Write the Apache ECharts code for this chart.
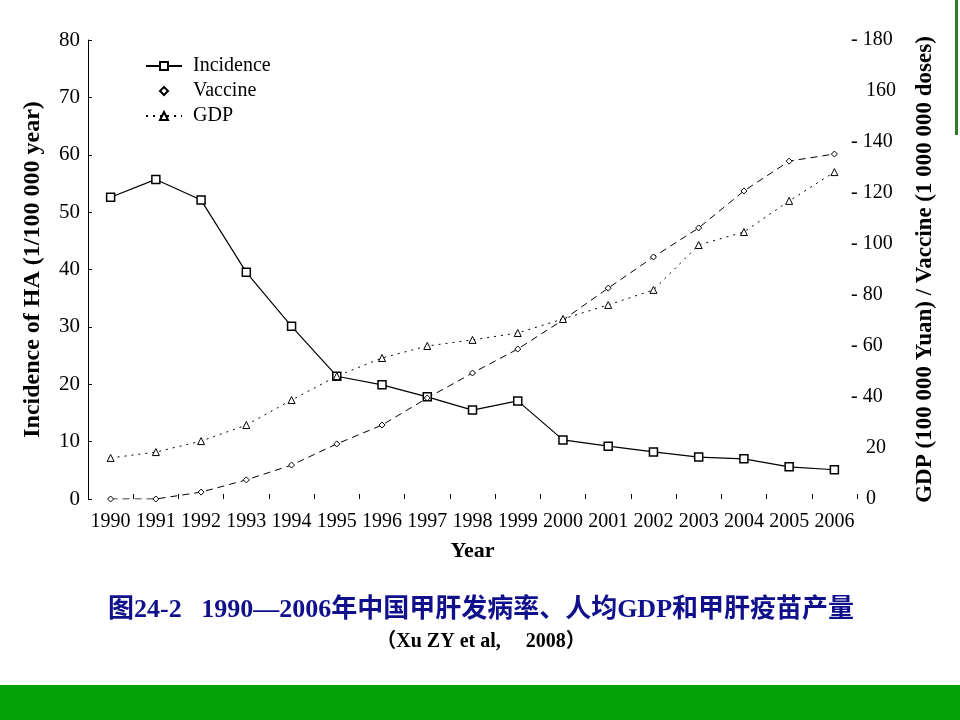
<!DOCTYPE html>
<html>
<head>
<meta charset="utf-8">
<script src="https://cdn.jsdelivr.net/npm/echarts@6/dist/echarts.min.js"></script>
<style>
  html, body { margin: 0; padding: 0; background: #fff; }
  #main { width: 960px; height: 720px; }
</style>
</head>
<body>
<div id="main"></div>
<script>
// 年份
var years = ['1990', '1991', '1992', '1993', '1994', '1995', '1996', '1997', '1998',
             '1999', '2000', '2001', '2002', '2003', '2004', '2005', '2006'];
// 甲肝发病率 (1/10万)
var incidence = [52.6, 55.7, 52.1, 39.5, 30.1, 21.4, 19.9, 17.8, 15.5,
                 17.1, 10.3, 9.2, 8.2, 7.3, 7.0, 5.6, 5.1];
// 疫苗产量 (百万剂)
var vaccine = [0, 0, 2.7, 7.5, 13.3, 21.6, 29.0, 39.6, 49.4,
               58.8, 70.2, 82.7, 94.9, 106.3, 120.8, 132.5, 135.3];
// 人均GDP (10万元)
var gdp = [16.1, 18.4, 22.7, 29.0, 38.8, 48.2, 55.3, 60.0, 62.4,
           65.1, 70.6, 76.1, 82.0, 99.6, 104.7, 116.9, 128.2];
// 右轴刻度文字
var rightTicks = [0, 20, 40, 60, 80, 100, 120, 140, 160, 180];
var rightTickLabels = ['0', '20', '- 40', '- 60', '- 80', '- 100', '- 120', '- 140', '160', '- 180'];

var serif = '"Liberation Serif", "DejaVu Serif", serif';
var myChart = echarts.init(document.getElementById('main'));
var option = {
    backgroundColor: '#fff',
    animation: false,
    title: [
        {
            //图表标题
            text: '图24-2   1990—2006年中国甲肝发病率、人均GDP和甲肝疫苗产量',
            left: 476, top: 592, textAlign: 'center',
            textStyle: { color: '#10108c', fontSize: 26, fontWeight: 'bold',
                         fontFamily: '"Liberation Serif", "Noto Sans CJK SC", serif' }
        },
        {
            text: '（Xu ZY et al,     2008）',
            left: 476, top: 627, textAlign: 'center',
            textStyle: { color: '#000', fontSize: 20, fontWeight: 'bold',
                         fontFamily: '"Liberation Serif", "Noto Sans CJK SC", serif' }
        }
    ],
    legend: {
        //左上角图例
        left: 140, top: 51, orient: 'vertical', itemGap: 5,
        itemWidth: 36, itemHeight: 10,
        textStyle: { fontFamily: serif, fontSize: 20, color: '#000', padding: [0, 0, 0, 6] },
        data: [
            { name: 'Incidence' },
            { name: 'Vaccine', lineStyle: { opacity: 0 } },
            { name: 'GDP' }
        ]
    },
    grid: { left: 88, right: 103, top: 40, bottom: 221 },
    xAxis: {
        type: 'category',
        boundaryGap: true,
        data: years,
        name: 'Year', nameLocation: 'middle', nameGap: 41,
        nameTextStyle: { fontFamily: serif, fontSize: 22, fontWeight: 'bold', color: '#000' },
        axisLine: { show: false },
        axisTick: { show: true, inside: true, length: 5, lineStyle: { color: '#000' } },
        axisLabel: { fontFamily: serif, fontSize: 20, color: '#000', margin: 13, interval: 0 }
    },
    yAxis: [
        {
            type: 'value', min: 0, max: 80, interval: 10,
            name: 'Incidence of HA (1/100 000 year)', nameLocation: 'middle', nameGap: 43,
            nameTextStyle: { fontFamily: serif, fontSize: 24, fontWeight: 'bold', color: '#000' },
            axisLine: { show: true, lineStyle: { color: '#000', width: 1 } },
            axisTick: { show: true, inside: true, length: 4, lineStyle: { color: '#000' } },
            axisLabel: { fontFamily: serif, fontSize: 21, color: '#000', margin: 8 },
            splitLine: { show: false }
        },
        {
            type: 'value', min: 0, max: 180, interval: 20, position: 'right', offset: -6,
            name: 'GDP (100 000 Yuan) / Vaccine (1 000 000 doses)', nameLocation: 'middle',
            nameGap: 63, nameRotate: 90,
            nameTextStyle: { fontFamily: serif, fontSize: 23, fontWeight: 'bold', color: '#000' },
            axisLine: { show: false },
            axisTick: { show: false },
            axisLabel: {
                fontFamily: serif, fontSize: 20, color: '#000', margin: 0,
                formatter: function (v) {
                    var i = rightTicks.indexOf(v);
                    var s = i >= 0 ? rightTickLabels[i] : String(v);
                    return s.indexOf('-') === 0 ? s : '\u2002 ' + s;
                }
            },
            splitLine: { show: false }
        }
    ],
    series: [
        {
            name: 'Incidence', type: 'line', yAxisIndex: 0, data: incidence,
            symbol: 'rect', symbolSize: 8,
            itemStyle: { color: '#fff', borderColor: '#000', borderWidth: 1.5 },
            lineStyle: { color: '#000', width: 1.2, type: 'solid' }
        },
        {
            name: 'Vaccine', type: 'line', yAxisIndex: 1, data: vaccine,
            symbol: 'diamond', symbolSize: 6,
            itemStyle: { color: '#fff', borderColor: '#000', borderWidth: 1 },
            lineStyle: { color: '#000', width: 1, type: [7, 5] }
        },
        {
            name: 'GDP', type: 'line', yAxisIndex: 1, data: gdp,
            symbol: 'triangle', symbolSize: 7,
            itemStyle: { color: '#fff', borderColor: '#000', borderWidth: 1 },
            lineStyle: { color: '#000', width: 1, type: [2, 5] }
        }
    ],
    graphic: [
        { type: 'rect', shape: { x: 0, y: 685, width: 960, height: 35 }, style: { fill: '#05a005' } },
        { type: 'rect', shape: { x: 955, y: 0, width: 3, height: 135 }, style: { fill: '#2f7a2f' } }
    ]
};
myChart.setOption(option);
</script>
</body>
</html>
